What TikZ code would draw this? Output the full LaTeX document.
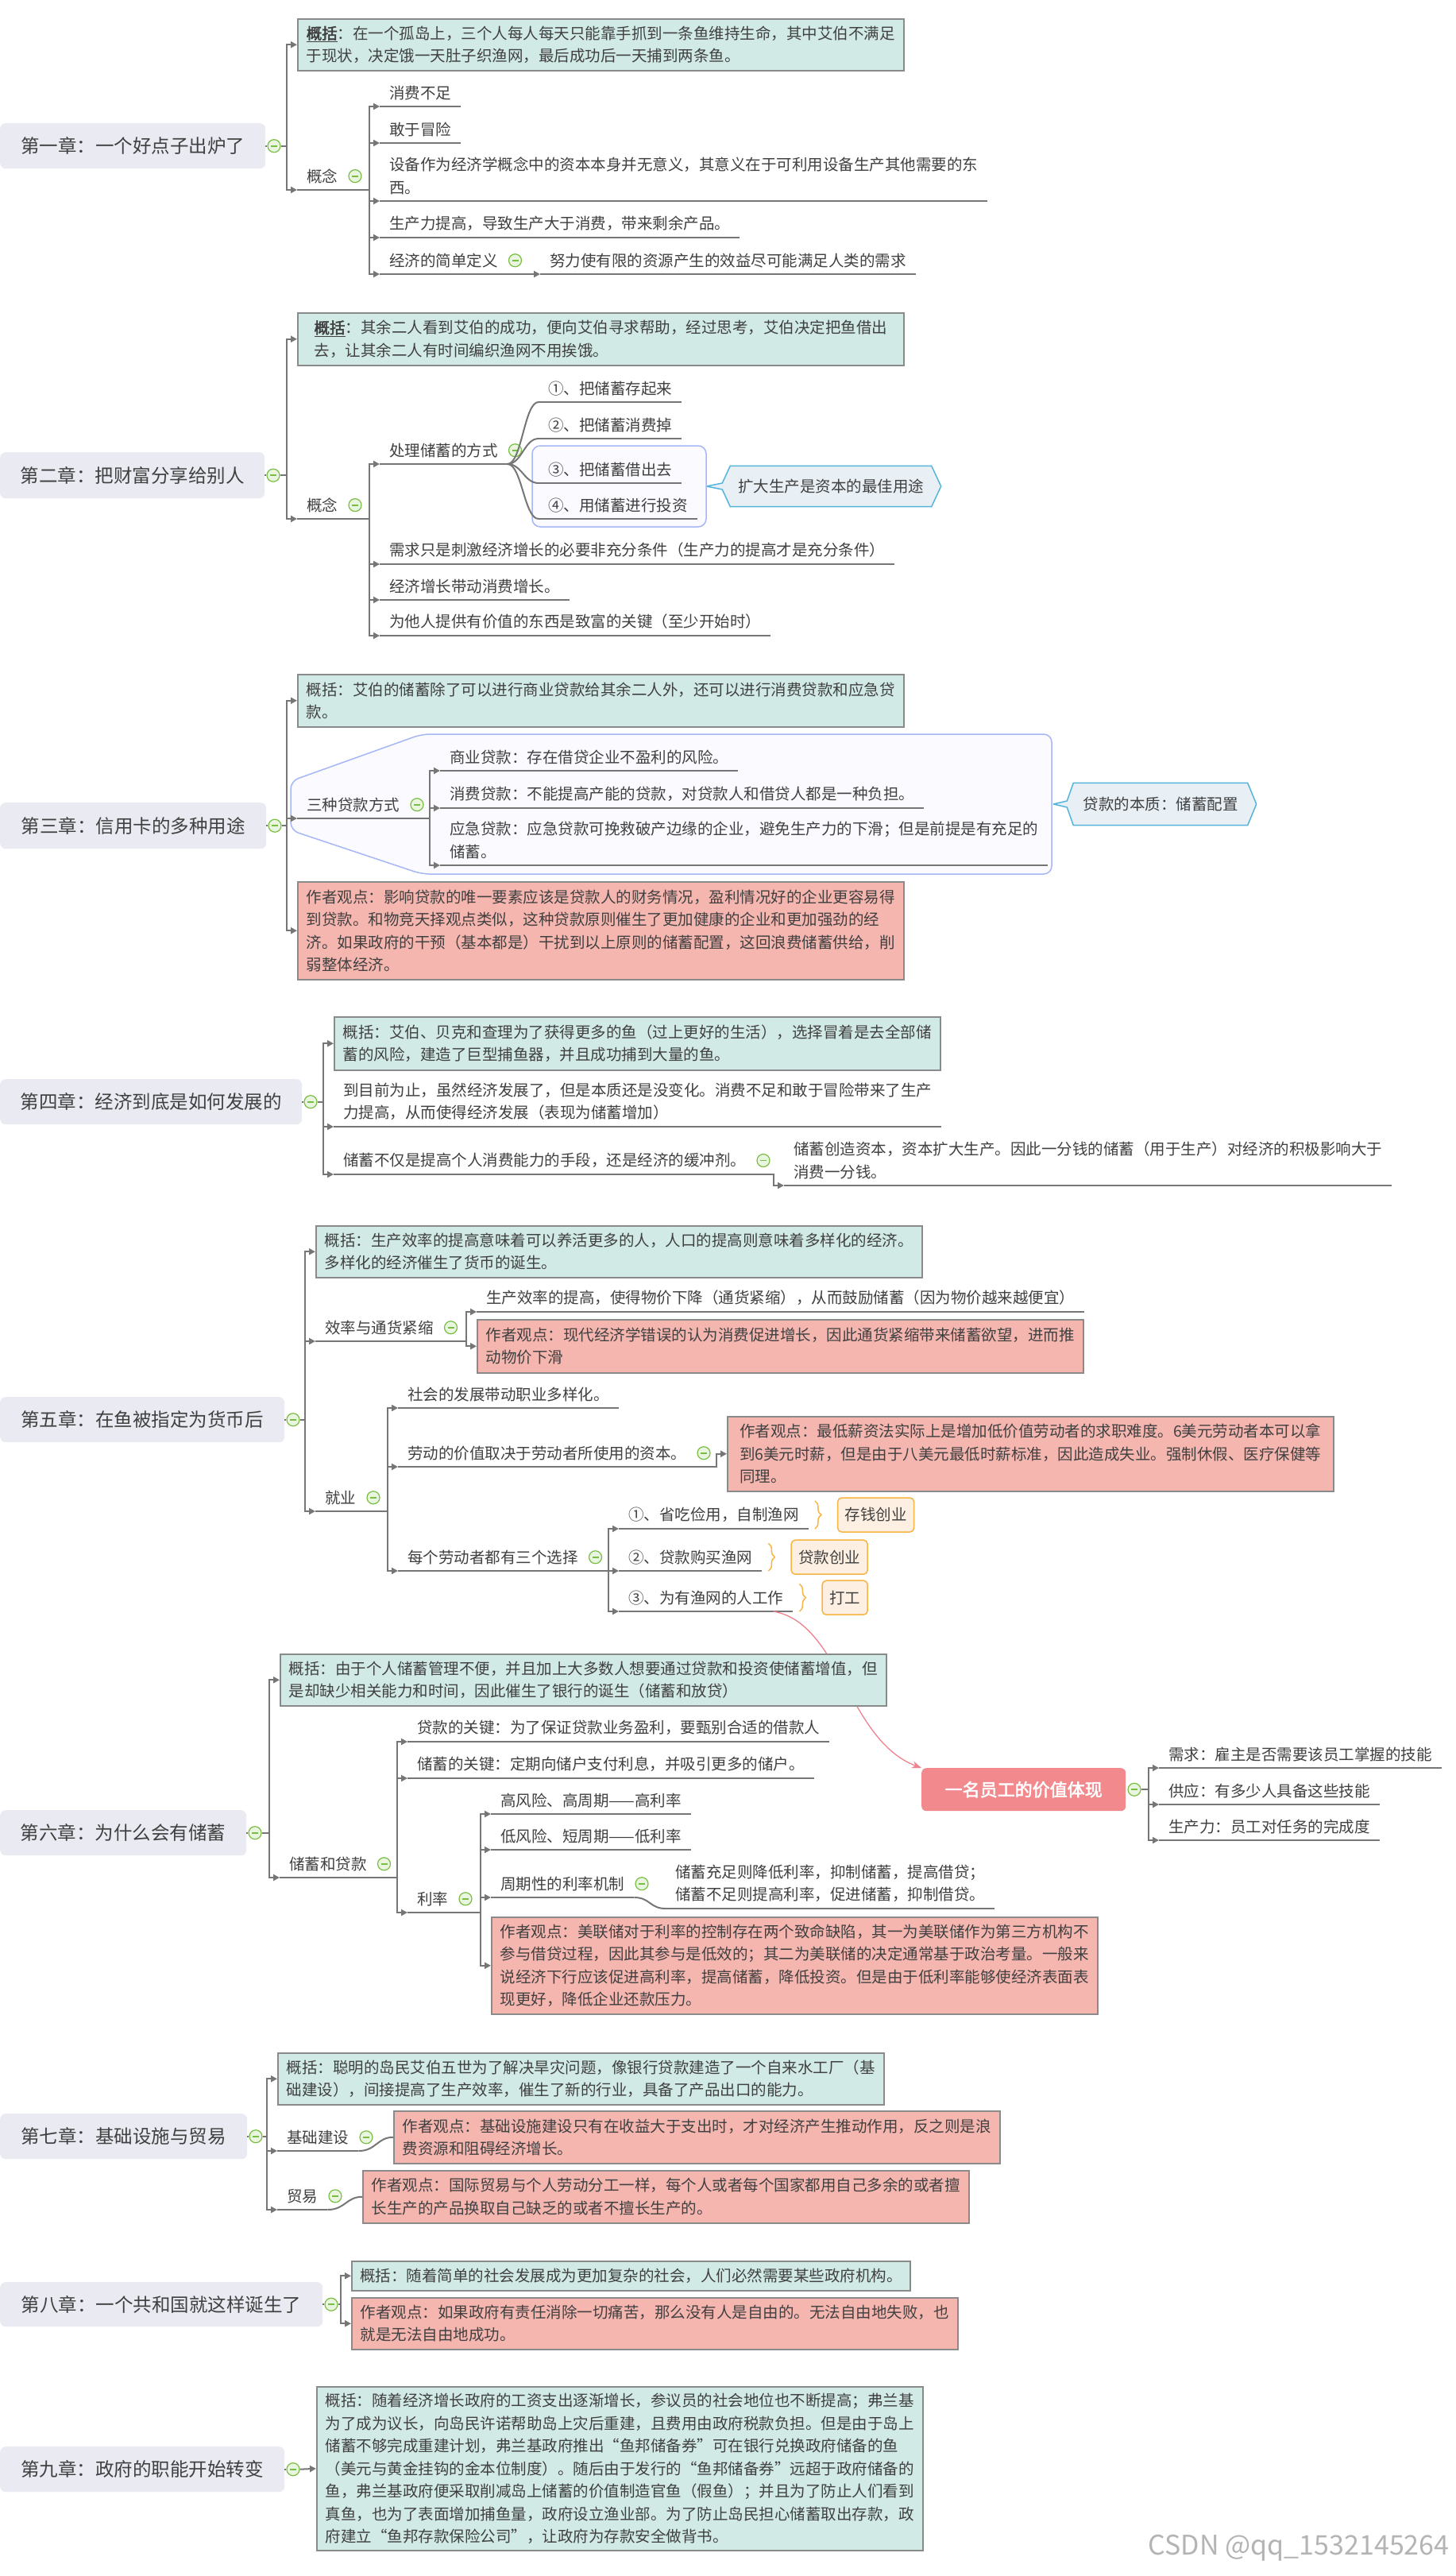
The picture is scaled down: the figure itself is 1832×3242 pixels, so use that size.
\documentclass[tikz,border=0pt]{standalone}
\usepackage{fontspec}
\setmainfont{Noto Sans CJK SC}[AutoFakeBold=2.5]
\usetikzlibrary{arrows.meta,positioning,decorations.pathreplacing}
\definecolor{Ink}{HTML}{404040}
\definecolor{LineGray}{HTML}{767676}
\definecolor{ChapFill}{HTML}{E9EAF2}
\definecolor{SumFill}{HTML}{D1EAE6}
\definecolor{OpFill}{HTML}{F5B6B0}
\definecolor{BoxLine}{HTML}{8A8A8A}
\definecolor{FoldGreen}{HTML}{78BE43}
\definecolor{FoldFill}{HTML}{EAF5E0}
\definecolor{GroupBlue}{HTML}{A5B7F5}
\definecolor{GroupFill}{HTML}{FAFAFF}
\definecolor{CallLine}{HTML}{55B4DA}
\definecolor{CallFill}{HTML}{E8EFF5}
\definecolor{TagLine}{HTML}{F8B440}
\definecolor{TagFill}{HTML}{FDF0E3}
\definecolor{RelPink}{HTML}{F0828E}
\definecolor{RelFill}{HTML}{F2898D}
\definecolor{Mark}{HTML}{B4B4B4}
\newcommand\mmbody{\fontsize{19.5}{28.5}\selectfont}
\newcommand\mmchap{\fontsize{23.5}{28}\selectfont}
\pgfdeclarelayer{back}
\pgfsetlayers{back,main}
\tikzset{
  chapter/.style={
    rounded corners=7pt, fill=ChapFill, text=Ink, font=\mmchap,
    anchor=north west, inner sep=0pt
  },
  fold/.style={
    circle, draw=FoldGreen, line width=1.2pt, fill=FoldFill,
    minimum size=16pt, inner sep=0pt,
    path picture={\draw[FoldGreen, line width=1.8pt]
      ([xshift=-4pt]path picture bounding box.center) --
      ([xshift=4pt]path picture bounding box.center);}
  },
  note/.style={
    draw=BoxLine, line width=1.5pt, text=Ink, font=\mmbody, align=left,
    anchor=north west, minimum width=763pt, inner xsep=10pt, inner ysep=0pt
  },
  summary/.style={note, fill=SumFill},
  opinion/.style={note, fill=OpFill},
  uline/.style={draw=LineGray, line width=2pt},
  topic/.style={
    anchor=south west, text=Ink, font=\mmbody, align=left,
    inner xsep=12pt, inner ysep=8pt,
    append after command={(\tikzlastnode.south west) edge[uline] (\tikzlastnode.south east)}
  },
  link/.style={draw=LineGray, line width=2pt, -{Triangle[length=8pt,width=8pt]}},
  curvelink/.style={draw=LineGray, line width=2pt},
  callout/.style={text=Ink, font=\mmbody, inner sep=0pt},
  calloutline/.style={draw=CallLine, fill=CallFill, line width=1.5pt, line join=round},
  group/.style={draw=GroupBlue, fill=GroupFill, line width=1.5pt, rounded corners=10pt},
  tag/.style={
    rounded corners=5pt, draw=TagLine, line width=1.5pt, fill=TagFill, text=Ink,
    font=\mmbody, minimum height=43pt, inner xsep=9pt
  },
  tagbrace/.style={draw=TagLine, line width=1.5pt, decorate, decoration={brace, amplitude=8pt}},
  relation/.style={draw=RelPink, line width=1.3pt, -{Stealth[length=12pt,width=9pt]}},
  keybox/.style={
    rounded corners=6pt, fill=RelFill, text=white,
    font=\fontsize{22}{26}\selectfont\bfseries,
    minimum width=257pt, minimum height=54pt, anchor=north west, inner sep=0pt
  }
}

\begin{document}
\begin{tikzpicture}[x=1pt,y=-1pt]
  \begin{pgfonlayer}{back}
    \path[fill=white, use as bounding box] (0,0) rectangle (1832,3242);
  \end{pgfonlayer}
  \draw[group] (670,561) rectangle (889,663);
  \draw[group] (531,924) -- (1324,924) -- (1324,1100) -- (531,1100) -- (366,1045) -- (366,983) -- cycle;

  % chapter 1
  \node[chapter, minimum width=334pt, minimum height=57pt] (ch1) at (0,155) {第一章：一个好点子出炉了};
  \node[fold, right=2pt of ch1] (f1) {};
  \node[summary, minimum height=65pt] (sum1) at (374,23) {\underline{\textbf{概括}}：在一个孤岛上，三个人每人每天只能靠手抓到一条鱼维持生命，其中艾伯不满足\\于现状，决定饿一天肚子织渔网，最后成功后一天捕到两条鱼。};
  \node[topic] (gn1) at (374,239) {概念};
  \node[fold, right=1pt of gn1] (gn1f) {};
  \node[topic] (c11) at (478,134) {消费不足};
  \node[topic] (c12) at (478,180) {敢于冒险};
  \node[topic] (c13) at (478,253) {设备作为经济学概念中的资本本身并无意义，其意义在于可利用设备生产其他需要的东\\西。};
  \node[topic] (c14) at (478,299) {生产力提高，导致生产大于消费，带来剩余产品。};
  \node[topic] (c15) at (478,345) {经济的简单定义};
  \node[fold, right=1pt of c15] (c15f) {};
  \node[topic] (c16) at (680,345) {努力使有限的资源产生的效益尽可能满足人类的需求};
  \draw[uline] (ch1.east) -- (f1.west);
  \foreach \k in {sum1.west, gn1.south west}
    \draw[link] (f1.east) -| ([xshift=-13pt]\k) -- (\k);
  \foreach \k in {c11,c12,c13,c14,c15}
    \draw[link] (gn1.south east) -| ([xshift=-13pt]\k.south west) -- (\k.south west);
  \draw[link] (c15.south east) -- (c16.south west);

  % chapter 2
  \node[chapter, minimum width=333pt, minimum height=58pt] (ch2) at (0,569) {第二章：把财富分享给别人};
  \node[fold, right=2pt of ch2] (f2) {};
  \node[summary, minimum height=66pt] (sum2) at (374,393) {\underline{\textbf{概括}}：其余二人看到艾伯的成功，便向艾伯寻求帮助，经过思考，艾伯决定把鱼借出\\去，让其余二人有时间编织渔网不用挨饿。};
  \node[topic] (gn2) at (374,653) {概念};
  \node[fold, right=1pt of gn2] (gn2f) {};
  \node[topic] (c21) at (478,584) {处理储蓄的方式};
  \node[fold, right=1pt of c21] (c21f) {};
  \node[topic] (c22) at (678,506) {①、把储蓄存起来};
  \node[topic] (c23) at (678,552) {②、把储蓄消费掉};
  \node[topic] (c24) at (678,608) {③、把储蓄借出去};
  \node[topic] (c25) at (678,653) {④、用储蓄进行投资};
  \node[topic] (c26) at (478,710) {需求只是刺激经济增长的必要非充分条件（生产力的提高才是充分条件）};
  \node[topic] (c27) at (478,755) {经济增长带动消费增长。};
  \node[topic] (c28) at (478,800) {为他人提供有价值的东西是致富的关键（至少开始时）};
  \node[callout, minimum width=253pt, minimum height=51pt] (cb2) at (1046,612) {扩大生产是资本的最佳用途};
  \begin{pgfonlayer}{back}
    \path[calloutline] (cb2.north west) -- (cb2.north east) -- ([xshift=12pt]cb2.east)
      -- (cb2.south east) -- (cb2.south west) -- ([xshift=-10pt,yshift=-4pt]cb2.west)
      -- ([xshift=-30pt]cb2.west) -- ([xshift=-10pt,yshift=4pt]cb2.west) -- cycle;
  \end{pgfonlayer}
  \draw[uline] (ch2.east) -- (f2.west);
  \foreach \k in {sum2.west, gn2.south west}
    \draw[link] (f2.east) -| ([xshift=-13pt]\k) -- (\k);
  \foreach \k in {c21,c26,c27,c28}
    \draw[link] (gn2.south east) -| ([xshift=-13pt]\k.south west) -- (\k.south west);
  \foreach \k in {c22,c23,c24,c25}
    \draw[curvelink] (c21.south east) .. controls +(18,0) and +(-18,0) .. (\k.south west);

  % chapter 3
  \node[chapter, minimum width=335pt, minimum height=58pt] (ch3) at (0,1010) {第三章：信用卡的多种用途};
  \node[fold, right=2pt of ch3] (f3) {};
  \node[summary, minimum height=66pt] (sum3) at (374,848) {概括：艾伯的储蓄除了可以进行商业贷款给其余二人外，还可以进行消费贷款和应急贷\\款。};
  \node[topic] (gn3) at (374,1030) {三种贷款方式};
  \node[fold, right=1pt of gn3] (gn3f) {};
  \node[topic] (c31) at (554,970) {商业贷款：存在借贷企业不盈利的风险。};
  \node[topic] (c32) at (554,1017) {消费贷款：不能提高产能的贷款，对贷款人和借贷人都是一种负担。};
  \node[topic] (c33) at (554,1089) {应急贷款：应急贷款可挽救破产边缘的企业，避免生产力的下滑；但是前提是有充足的\\储蓄。};
  \node[opinion, minimum height=123pt] (op3) at (374,1109) {作者观点：影响贷款的唯一要素应该是贷款人的财务情况，盈利情况好的企业更容易得\\到贷款。和物竞天择观点类似，这种贷款原则催生了更加健康的企业和更加强劲的经\\济。如果政府的干预（基本都是）干扰到以上原则的储蓄配置，这回浪费储蓄供给，削\\弱整体经济。};
  \node[callout, minimum width=219pt, minimum height=53pt] (cb3) at (1461,1012) {贷款的本质：储蓄配置};
  \begin{pgfonlayer}{back}
    \path[calloutline] (cb3.north west) -- (cb3.north east) -- ([xshift=11pt]cb3.east)
      -- (cb3.south east) -- (cb3.south west) -- ([xshift=-8pt,yshift=-4pt]cb3.west)
      -- ([xshift=-25pt]cb3.west) -- ([xshift=-8pt,yshift=4pt]cb3.west) -- cycle;
  \end{pgfonlayer}
  \draw[uline] (ch3.east) -- (f3.west);
  \foreach \k in {sum3.west, gn3.south west, op3.west}
    \draw[link] (f3.east) -| ([xshift=-13pt]\k) -- (\k);
  \foreach \k in {c31,c32,c33}
    \draw[link] (gn3.south east) -| ([xshift=-13pt]\k.south west) -- (\k.south west);

  % chapter 4
  \node[chapter, minimum width=380pt, minimum height=57pt] (ch4) at (0,1358) {第四章：经济到底是如何发展的};
  \node[fold, right=2pt of ch4] (f4) {};
  \node[summary, minimum height=67pt] (sum4) at (420,1279) {概括：艾伯、贝克和查理为了获得更多的鱼（过上更好的生活），选择冒着是去全部储\\蓄的风险，建造了巨型捕鱼器，并且成功捕到大量的鱼。};
  \node[topic] (c41) at (420,1418) {到目前为止，虽然经济发展了，但是本质还是没变化。消费不足和敢于冒险带来了生产\\力提高，从而使得经济发展（表现为储蓄增加）};
  \node[topic] (c42) at (420,1478) {储蓄不仅是提高个人消费能力的手段，还是经济的缓冲剂。};
  \node[fold, right=1pt of c42] (c42f) {};
  \node[topic] (c43) at (987,1492) {储蓄创造资本，资本扩大生产。因此一分钱的储蓄（用于生产）对经济的积极影响大于\\消费一分钱。};
  \draw[uline] (ch4.east) -- (f4.west);
  \foreach \k in {sum4.west, c41.south west, c42.south west}
    \draw[link] (f4.east) -| ([xshift=-13pt]\k) -- (\k);
  \draw[link] (c42.south east) -| ([xshift=-13pt]c43.south west) -- (c43.south west);

  % chapter 5
  \node[chapter, minimum width=358pt, minimum height=57pt] (ch5) at (0,1758) {第五章：在鱼被指定为货币后};
  \node[fold, right=2pt of ch5] (f5) {};
  \node[summary, minimum height=65pt] (sum5) at (397,1542) {概括：生产效率的提高意味着可以养活更多的人，人口的提高则意味着多样化的经济。\\多样化的经济催生了货币的诞生。};
  \node[topic] (c51) at (397,1688) {效率与通货紧缩};
  \node[fold, right=1pt of c51] (c51f) {};
  \node[topic] (c52) at (600,1651) {生产效率的提高，使得物价下降（通货紧缩），从而鼓励储蓄（因为物价越来越便宜）};
  \node[opinion, minimum height=67pt] (op51) at (600,1660) {作者观点：现代经济学错误的认为消费促进增长，因此通货紧缩带来储蓄欲望，进而推\\动物价下滑};
  \node[topic] (c53) at (397,1902) {就业};
  \node[fold, right=1pt of c53] (c53f) {};
  \node[topic] (c54) at (501,1772) {社会的发展带动职业多样化。};
  \node[topic] (c55) at (501,1846) {劳动的价值取决于劳动者所使用的资本。};
  \node[fold, right=1pt of c55] (c55f) {};
  \node[opinion, minimum height=94pt] (op52) at (915,1782) {作者观点：最低薪资法实际上是增加低价值劳动者的求职难度。6美元劳动者本可以拿\\到6美元时薪，但是由于八美元最低时薪标准，因此造成失业。强制休假、医疗保健等\\同理。};
  \node[topic] (c56) at (501,1977) {每个劳动者都有三个选择};
  \node[fold, right=1pt of c56] (c56f) {};
  \node[topic] (c57) at (779,1924) {①、省吃俭用，自制渔网};
  \node[topic] (c58) at (779,1977) {②、贷款购买渔网};
  \node[topic] (c59) at (779,2028) {③、为有渔网的人工作};
  \node[tag, right=36pt of c57] (tg1) {存钱创业};
  \node[tag, right=36pt of c58] (tg2) {贷款创业};
  \node[tag, right=36pt of c59] (tg3) {打工};
  \foreach \k in {c57,c58,c59}
    \draw[tagbrace] ([xshift=8pt]\k.north east) -- ([xshift=8pt]\k.south east);
  \node[keybox] (rb) at (1160,2225) {一名员工的价值体现};
  \node[fold, right=2pt of rb] (rbf) {};
  \node[topic] (r1) at (1459,2225) {需求：雇主是否需要该员工掌握的技能};
  \node[topic] (r2) at (1459,2271) {供应：有多少人具备这些技能};
  \node[topic] (r3) at (1459,2316) {生产力：员工对任务的完成度};
  \draw[uline] (ch5.east) -- (f5.west);
  \foreach \k in {sum5.west, c51.south west, c53.south west}
    \draw[link] (f5.east) -| ([xshift=-13pt]\k) -- (\k);
  \foreach \k in {c52.south west, op51.west}
    \draw[link] (c51.south east) -| ([xshift=-13pt]\k) -- (\k);
  \foreach \k in {c54,c55,c56}
    \draw[link] (c53.south east) -| ([xshift=-13pt]\k.south west) -- (\k.south west);
  \draw[link] (c55.south east) -| ([xshift=-13pt]op52.west) -- (op52.west);
  \foreach \k in {c57,c58,c59}
    \draw[link] (c56.south east) -| ([xshift=-13pt]\k.south west) -- (\k.south west);
  \foreach \k in {r1,r2,r3}
    \draw[link] (rbf.east) -| ([xshift=-13pt]\k.south west) -- (\k.south west);
  \draw[relation] ([xshift=-25pt]c59.south east) .. controls +(84,14) and +(-93,-35) .. (rb.north west);

  % chapter 6
  \node[chapter, minimum width=310pt, minimum height=57pt] (ch6) at (0,2278) {第六章：为什么会有储蓄};
  \node[fold, right=2pt of ch6] (f6) {};
  \node[summary, minimum height=65pt] (sum6) at (352,2081) {概括：由于个人储蓄管理不便，并且加上大多数人想要通过贷款和投资使储蓄增值，但\\是却缺少相关能力和时间，因此催生了银行的诞生（储蓄和放贷）};
  \node[topic] (c61) at (352,2363) {储蓄和贷款};
  \node[fold, right=1pt of c61] (c61f) {};
  \node[topic] (c62) at (513,2192) {贷款的关键：为了保证贷款业务盈利，要甄别合适的借款人};
  \node[topic] (c63) at (513,2238) {储蓄的关键：定期向储户支付利息，并吸引更多的储户。};
  \node[topic] (c64) at (513,2407) {利率};
  \node[fold, right=1pt of c64] (c64f) {};
  \node[topic] (c65) at (618,2283) {高风险、高周期——高利率};
  \node[topic] (c66) at (618,2328) {低风险、短周期——低利率};
  \node[topic] (c67) at (618,2388) {周期性的利率机制};
  \node[fold, right=1pt of c67] (c67f) {};
  \node[topic] (c68) at (838,2402) {储蓄充足则降低利率，抑制储蓄，提高借贷；\\储蓄不足则提高利率，促进储蓄，抑制借贷。};
  \node[opinion, minimum height=122pt] (op6) at (618,2412) {作者观点：美联储对于利率的控制存在两个致命缺陷，其一为美联储作为第三方机构不\\参与借贷过程，因此其参与是低效的；其二为美联储的决定通常基于政治考量。一般来\\说经济下行应该促进高利率，提高储蓄，降低投资。但是由于低利率能够使经济表面表\\现更好，降低企业还款压力。};
  \draw[uline] (ch6.east) -- (f6.west);
  \foreach \k in {sum6.west, c61.south west}
    \draw[link] (f6.east) -| ([xshift=-13pt]\k) -- (\k);
  \foreach \k in {c62,c63,c64}
    \draw[link] (c61.south east) -| ([xshift=-13pt]\k.south west) -- (\k.south west);
  \foreach \k in {c65.south west, c66.south west, c67.south west, op6.west}
    \draw[link] (c64.south east) -| ([xshift=-13pt]\k) -- (\k);
  \draw[curvelink] (c67.south east) .. controls +(20,0) and +(-20,0) .. (c68.south west);

  % chapter 7
  \node[chapter, minimum width=311pt, minimum height=57pt] (ch7) at (0,2660) {第七章：基础设施与贸易};
  \node[fold, right=2pt of ch7] (f7) {};
  \node[summary, minimum height=65pt] (sum7) at (349,2583) {概括：聪明的岛民艾伯五世为了解决旱灾问题，像银行贷款建造了一个自来水工厂（基\\础建设），间接提高了生产效率，催生了新的行业，具备了产品出口的能力。};
  \node[topic] (c71) at (349,2707) {基础建设};
  \node[fold, right=1pt of c71] (c71f) {};
  \node[opinion, minimum height=66pt] (op71) at (495,2656) {作者观点：基础设施建设只有在收益大于支出时，才对经济产生推动作用，反之则是浪\\费资源和阻碍经济增长。};
  \node[topic] (c72) at (349,2781) {贸易};
  \node[fold, right=1pt of c72] (c72f) {};
  \node[opinion, minimum height=66pt] (op72) at (456,2731) {作者观点：国际贸易与个人劳动分工一样，每个人或者每个国家都用自己多余的或者擅\\长生产的产品换取自己缺乏的或者不擅长生产的。};
  \draw[uline] (ch7.east) -- (f7.west);
  \foreach \k in {sum7.west, c71.south west, c72.south west}
    \draw[link] (f7.east) -| ([xshift=-13pt]\k) -- (\k);
  \draw[curvelink] (c71.south east) .. controls +(22,0) and +(-20,0) .. (op71.west);
  \draw[curvelink] (c72.south east) .. controls +(22,0) and +(-20,0) .. (op72.west);

  % chapter 8
  \node[chapter, minimum width=406pt, minimum height=56pt] (ch8) at (0,2872) {第八章：一个共和国就这样诞生了};
  \node[fold, right=2pt of ch8] (f8) {};
  \node[summary, minimum width=703pt, minimum height=37pt] (sum8) at (442,2845) {概括：随着简单的社会发展成为更加复杂的社会，人们必然需要某些政府机构。};
  \node[opinion, minimum height=65pt] (op8) at (442,2891) {作者观点：如果政府有责任消除一切痛苦，那么没有人是自由的。无法自由地失败，也\\就是无法自由地成功。};
  \draw[uline] (ch8.east) -- (f8.west);
  \foreach \k in {sum8.west, op8.west}
    \draw[link] (f8.east) -| ([xshift=-13pt]\k) -- (\k);

  % chapter 9
  \node[chapter, minimum width=358pt, minimum height=57pt] (ch9) at (0,3079) {第九章：政府的职能开始转变};
  \node[fold, right=2pt of ch9] (f9) {};
  \node[summary, minimum height=206pt] (sum9) at (398,3003) {概括：随着经济增长政府的工资支出逐渐增长，参议员的社会地位也不断提高；弗兰基\\为了成为议长，向岛民许诺帮助岛上灾后重建，且费用由政府税款负担。但是由于岛上\\储蓄不够完成重建计划，弗兰基政府推出“鱼邦储备券”可在银行兑换政府储备的鱼\\（美元与黄金挂钩的金本位制度）。随后由于发行的“鱼邦储备券”远超于政府储备的\\鱼，弗兰基政府便采取削减岛上储蓄的价值制造官鱼（假鱼）；并且为了防止人们看到\\真鱼，也为了表面增加捕鱼量，政府设立渔业部。为了防止岛民担心储蓄取出存款，政\\府建立“鱼邦存款保险公司”，让政府为存款安全做背书。};
  \draw[uline] (ch9.east) -- (f9.west);
  \draw[link] (f9.east) -- (sum9.west);

  \node[anchor=east, text=Mark, font=\fontsize{34}{36}\selectfont] (mark) at (1828,3207) {CSDN @qq\_1532145264};
\end{tikzpicture}
\end{document}
